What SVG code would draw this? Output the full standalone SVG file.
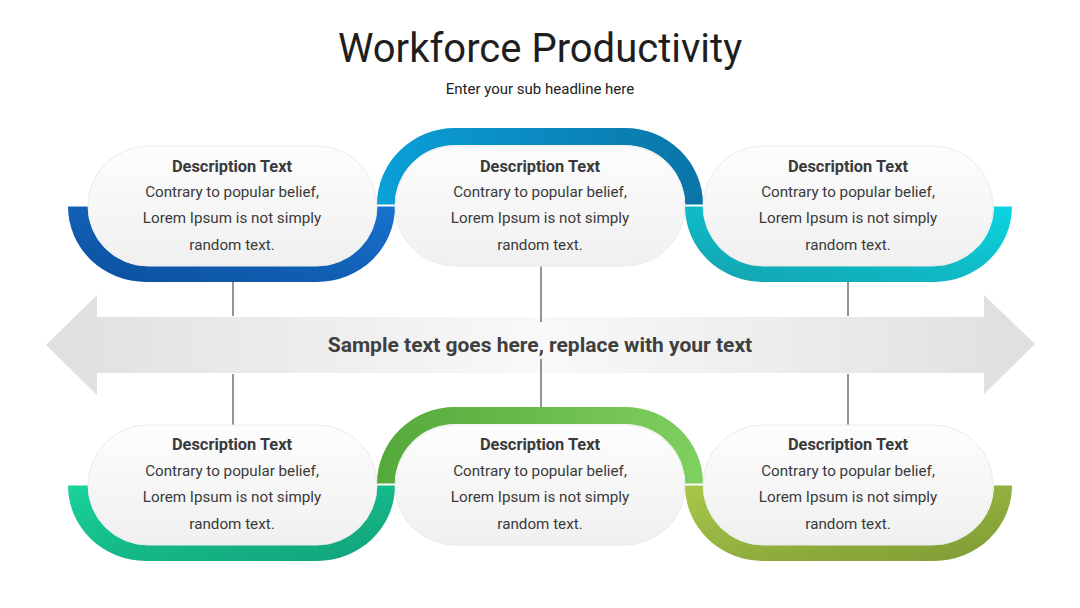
<svg xmlns="http://www.w3.org/2000/svg" width="1080" height="608" viewBox="0 0 1080 608">
<defs>
<linearGradient id="gPill" x1="0" y1="0" x2="0" y2="1"><stop offset="0" stop-color="#fdfdfd"/><stop offset="1" stop-color="#f0f0f0"/></linearGradient>
<linearGradient id="gShaft" x1="0" y1="0" x2="1" y2="0"><stop offset="0" stop-color="#e2e2e2"/><stop offset="0.5" stop-color="#f9f9f9"/><stop offset="1" stop-color="#e2e2e2"/></linearGradient>
<linearGradient id="g1" x1="0" y1="1" x2="1" y2="0"><stop offset="0" stop-color="#0b4f9c"/><stop offset="1" stop-color="#1872cf"/></linearGradient>
<linearGradient id="g2" x1="0" y1="0" x2="1" y2="0"><stop offset="0" stop-color="#0aa0d8"/><stop offset="1" stop-color="#0a74a8"/></linearGradient>
<linearGradient id="g3" x1="0" y1="1" x2="1" y2="0"><stop offset="0" stop-color="#12a2ae"/><stop offset="1" stop-color="#0cd4e0"/></linearGradient>
<linearGradient id="g4" x1="0" y1="0" x2="1" y2="1"><stop offset="0" stop-color="#1ad39a"/><stop offset="1" stop-color="#11a078"/></linearGradient>
<linearGradient id="g5" x1="0" y1="0" x2="1" y2="0"><stop offset="0" stop-color="#55a83a"/><stop offset="1" stop-color="#80d060"/></linearGradient>
<linearGradient id="g6" x1="0" y1="0" x2="1" y2="1"><stop offset="0" stop-color="#a8c84a"/><stop offset="1" stop-color="#7d9a33"/></linearGradient>
<path id="uband" d="M68,206.5 A78,75.5 0 0 0 146,282 L317,282 A78,75.5 0 0 0 395,206.5 L377,206.5 A58,58.5 0 0 1 319,265 L146,265 A58,58.5 0 0 1 88,206.5 Z"/>
<path id="arch" d="M377,204.5 A78,76.5 0 0 1 455,128 L625,128 A78,76.5 0 0 1 703,204.5 L685,204.5 A60,59.5 0 0 0 625,145 L455,145 A60,59.5 0 0 0 395,204.5 Z"/>
</defs>
<style>
.pill{fill:url(#gPill);stroke:#ebebeb;stroke-width:1}
.h{font-family:Roboto,"Liberation Sans",sans-serif;font-weight:bold;font-size:16.4px;fill:#3a3a3a;text-anchor:middle}
.b{font-family:Roboto,"Liberation Sans",sans-serif;font-size:15.2px;fill:#3a3a3a;text-anchor:middle}
.ln{stroke:#2a2a2a;stroke-width:1}
</style>
<rect width="1080" height="608" fill="#ffffff"/>
<text x="540" y="62" font-family="Roboto,'Liberation Sans',sans-serif" font-size="40" fill="#1e1e1e" text-anchor="middle">Workforce Productivity</text>
<text x="540" y="94" font-family="Roboto,'Liberation Sans',sans-serif" font-size="15" fill="#222" text-anchor="middle">Enter your sub headline here</text>

<g id="arrow">
<rect x="96" y="317" width="889" height="56" fill="url(#gShaft)"/>
<polygon points="97,295 97,395 46,345" fill="#e0e0e0"/>
<polygon points="984,295 984,394 1035,344" fill="#e0e0e0"/>
<text x="540" y="352" font-family="Roboto,'Liberation Sans',sans-serif" font-weight="bold" font-size="21" fill="#404040" text-anchor="middle">Sample text goes here, replace with your text</text>
</g>

<g id="connectors">
<line class="ln" x1="233" y1="266" x2="233" y2="316"/>
<line class="ln" x1="233" y1="374" x2="233" y2="425"/>
<line class="ln" x1="541" y1="266" x2="541" y2="322"/>
<line class="ln" x1="541" y1="359" x2="541" y2="424"/>
<line class="ln" x1="848" y1="266" x2="848" y2="316"/>
<line class="ln" x1="848" y1="374" x2="848" y2="425"/>
</g>

<g id="node-top-1">
<use href="#uband" fill="url(#g1)"/>
<rect class="pill" x="88" y="146" width="289" height="120" rx="60"/>
<text class="h" x="232" y="172">Description Text</text>
<text class="b" x="232" y="197">Contrary to popular belief,</text>
<text class="b" x="232" y="223">Lorem Ipsum is not simply</text>
<text class="b" x="232" y="250">random text.</text>
</g>
<g id="node-top-2">
<use href="#arch" fill="url(#g2)"/>
<rect class="pill" x="395" y="146" width="290" height="120" rx="60"/>
<text class="h" x="540" y="172">Description Text</text>
<text class="b" x="540" y="197">Contrary to popular belief,</text>
<text class="b" x="540" y="223">Lorem Ipsum is not simply</text>
<text class="b" x="540" y="250">random text.</text>
</g>
<g id="node-top-3">
<use href="#uband" transform="translate(617,0)" fill="url(#g3)"/>
<rect class="pill" x="703" y="146" width="290" height="120" rx="60"/>
<text class="h" x="848" y="172">Description Text</text>
<text class="b" x="848" y="197">Contrary to popular belief,</text>
<text class="b" x="848" y="223">Lorem Ipsum is not simply</text>
<text class="b" x="848" y="250">random text.</text>
</g>

<g id="node-bottom-1">
<use href="#uband" transform="translate(0,279)" fill="url(#g4)"/>
<rect class="pill" x="88" y="425" width="289" height="120" rx="60"/>
<text class="h" x="232" y="450">Description Text</text>
<text class="b" x="232" y="476">Contrary to popular belief,</text>
<text class="b" x="232" y="502">Lorem Ipsum is not simply</text>
<text class="b" x="232" y="529">random text.</text>
</g>
<g id="node-bottom-2">
<use href="#arch" transform="translate(0,279)" fill="url(#g5)"/>
<rect class="pill" x="395" y="425" width="290" height="120" rx="60"/>
<text class="h" x="540" y="450">Description Text</text>
<text class="b" x="540" y="476">Contrary to popular belief,</text>
<text class="b" x="540" y="502">Lorem Ipsum is not simply</text>
<text class="b" x="540" y="529">random text.</text>
</g>
<g id="node-bottom-3">
<use href="#uband" transform="translate(617,279)" fill="url(#g6)"/>
<rect class="pill" x="703" y="425" width="290" height="120" rx="60"/>
<text class="h" x="848" y="450">Description Text</text>
<text class="b" x="848" y="476">Contrary to popular belief,</text>
<text class="b" x="848" y="502">Lorem Ipsum is not simply</text>
<text class="b" x="848" y="529">random text.</text>
</g>
</svg>
